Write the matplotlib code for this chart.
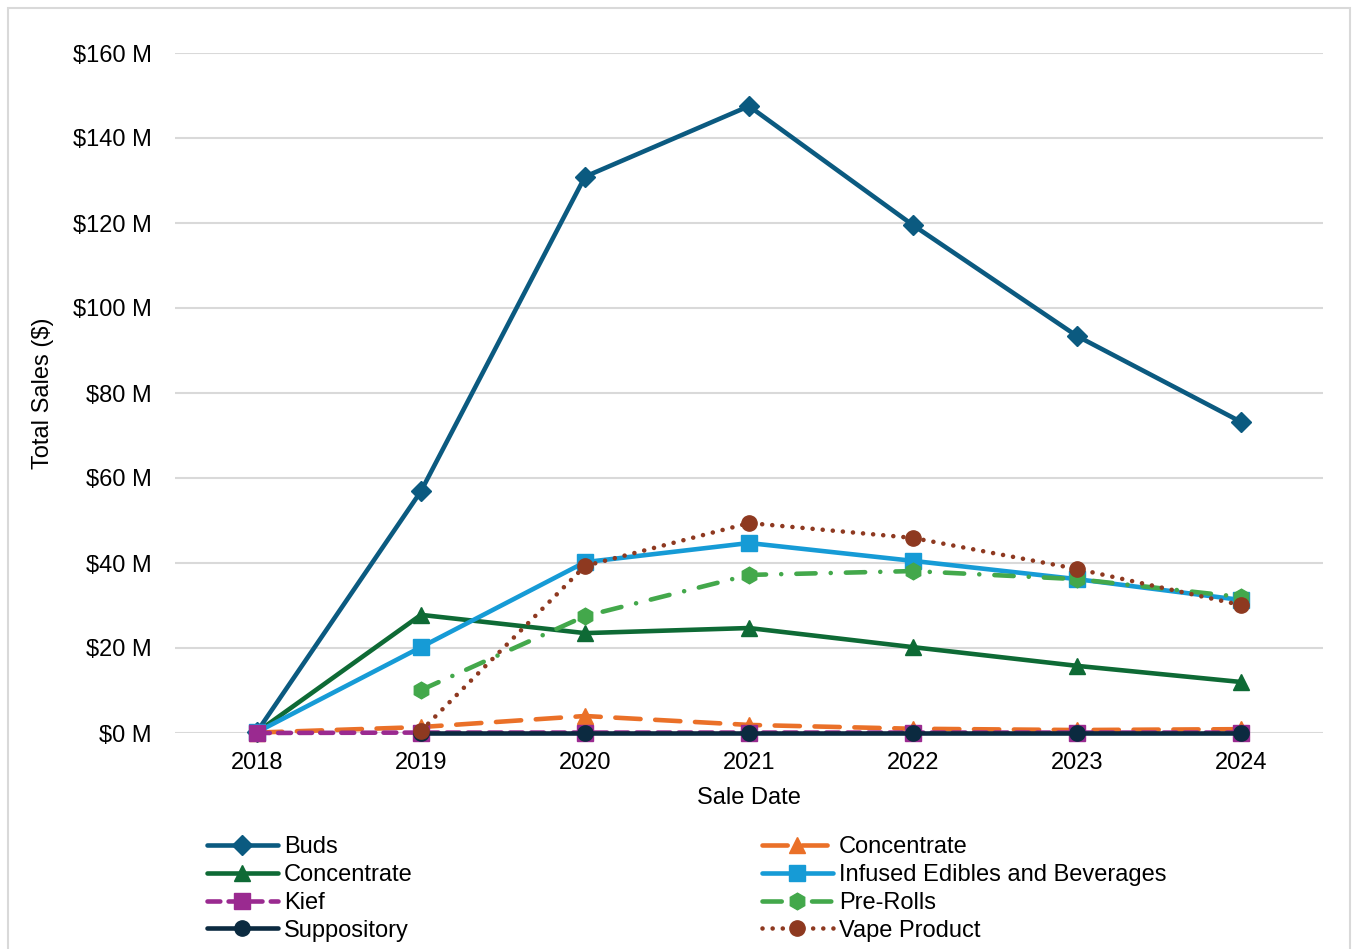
import matplotlib
matplotlib.use("Agg")
import matplotlib.pyplot as plt
from matplotlib.patches import Rectangle
from matplotlib.ticker import FuncFormatter
import numpy as np

plt.rcParams['font.family'] = ['Liberation Sans', 'DejaVu Sans']

years = ["2018", "2019", "2020", "2021", "2022", "2023", "2024"]

# Total sales per product type, in millions of dollars
buds = [0.3, 56.9, 130.9, 147.5, 119.5, 93.4, 73.2]
concentrate_orange = [0.1, 1.4, 4.0, 1.9, 1.0, 0.7, 0.9]
concentrate_green = [0.2, 27.8, 23.5, 24.7, 20.2, 15.8, 12.0]
infused = [0.2, 20.2, 40.2, 44.7, 40.5, 36.2, 31.3]
kief = [0.0, 0.1, 0.1, 0.1, 0.1, 0.1, 0.1]
pre_rolls = [np.nan, 10.1, 27.5, 37.2, 38.1, 36.2, 32.0]
suppository = [np.nan, 0.0, 0.0, 0.0, 0.0, 0.0, 0.0]
vape = [np.nan, 0.5, 39.3, 49.4, 45.9, 38.6, 30.1]

W, H = 1353, 949
fig = plt.figure(figsize=(W / 100, H / 100), dpi=100)
ax = fig.add_axes([175 / W, 1 - 733 / H, (1323 - 175) / W, (733 - 53) / H])

x = np.arange(len(years))
lw = 3.3

series = [
    dict(y=buds, label="Buds", color="#0B5A80", marker="D", ms=10, ls="-"),
    dict(y=concentrate_orange, label="Concentrate", color="#EA7028", marker="^", ms=12,
         ls=(0, (5.5, 3.2))),
    dict(y=concentrate_green, label="Concentrate", color="#0E6A35", marker="^", ms=12, ls="-"),
    dict(y=infused, label="Infused Edibles and Beverages", color="#169BD6", marker="s", ms=11, ls="-"),
    dict(y=kief, label="Kief", color="#9A2A90", marker="s", ms=11, ls=(0, (2.8, 1.8))),
    dict(y=pre_rolls, label="Pre-Rolls", color="#43A84B", marker="h", ms=12,
         ls=(0, (4.2, 3.3, 0.01, 3.3))),
    dict(y=suppository, label="Suppository", color="#0B2A40", marker="o", ms=11, ls="-"),
    dict(y=vape, label="Vape Product", color="#8E3920", marker="o", ms=11, ls=(0, (0.01, 2.2))),
]

handles = []
for s in series:
    h, = ax.plot(x, s["y"], color=s["color"], lw=lw, ls=s["ls"], marker=s["marker"],
                 ms=s["ms"], mec=s["color"], mfc=s["color"], label=s["label"],
                 solid_capstyle="round", dash_capstyle="round", clip_on=False)
    handles.append(h)

ax.set_xlim(-0.5, len(years) - 0.5)
ax.set_ylim(0, 160)
ax.set_yticks(np.arange(0, 161, 20))
ax.yaxis.set_major_formatter(FuncFormatter(lambda v, p: f"${v:.0f} M"))
ax.set_xticks(x)
ax.set_xticklabels(years)

ax.grid(axis="y", color="#D9D9D9", lw=1.5)
ax.set_axisbelow(True)
for sp in ax.spines.values():
    sp.set_visible(False)
ax.tick_params(axis="both", length=0, labelsize=17, colors="black")
ax.tick_params(axis="y", pad=16.5)
ax.tick_params(axis="x", pad=14)

ax.set_xlabel("Sale Date", fontsize=17, labelpad=9)
ax.set_ylabel("Total Sales ($)", fontsize=17, labelpad=14)

order = [0, 2, 4, 6, 1, 3, 5, 7]
leg = fig.legend([handles[i] for i in order], [series[i]["label"] for i in order],
                 ncol=2, loc="upper left", bbox_to_anchor=(207 / W, 1 - 836 / H),
                 frameon=False, fontsize=17, handlelength=3.0, handletextpad=0.25,
                 labelspacing=0.25, columnspacing=14.8, borderaxespad=0, borderpad=0)

fig.patches.append(Rectangle((8 / W, -0.01), (1350 - 8) / W, 1.01 - 8 / H,
                             transform=fig.transFigure, fill=False,
                             edgecolor="#D9D9D9", lw=1.5))

fig.savefig("out.png", dpi=100, facecolor="white")
